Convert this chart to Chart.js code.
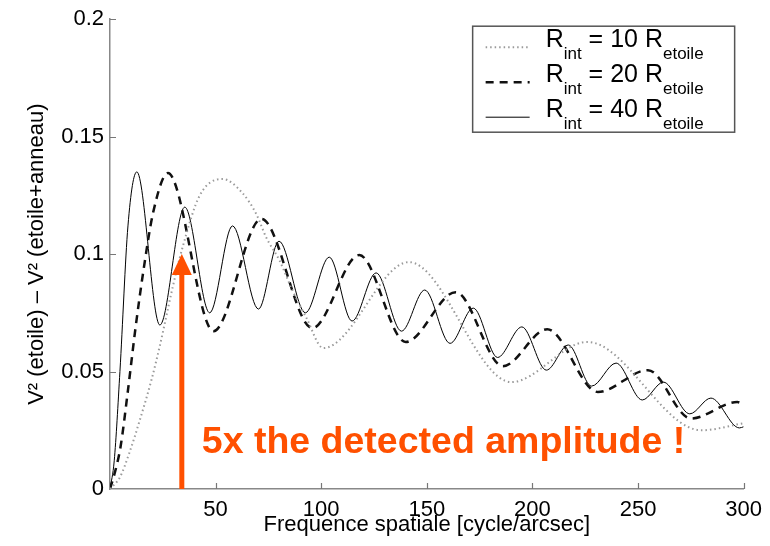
<!DOCTYPE html>
<html>
<head>
<meta charset="utf-8">
<script src="https://cdn.jsdelivr.net/npm/chart.js@4.4.0/dist/chart.umd.min.js"></script>
<style>
  body { margin: 0; background: #fff; }
  #wrap { width: 770px; height: 546px; }
</style>
</head>
<body>
<div id="wrap"><canvas id="myChart" width="770" height="546"></canvas></div>
<script>

// R_int = 10 R_etoile (dotted)
var r10Freq = [0, 4.7, 9.4, 14, 19.8, 23.6, 29.7, 34.4, 42.5, 53.3, 62.7, 69.3, 74, 80.2, 86.3, 92.9, 101, 141.5, 190, 226, 280, 300];
var r10Vis  = [0, 0.005, 0.016, 0.029, 0.047, 0.061, 0.086, 0.103, 0.125, 0.132, 0.126, 0.117, 0.107, 0.0974, 0.0847, 0.073, 0.060, 0.0966, 0.0455, 0.0626, 0.025, 0.028];

// R_int = 20 R_etoile (dashed)
var r20Freq = [0, 2, 5, 8.5, 12, 16, 20.5, 27.4, 49, 71.7, 95.8, 118, 140, 163.7, 186, 207, 231, 254.7, 275, 297, 300];
var r20Vis  = [0, 0.006, 0.018, 0.042, 0.068, 0.094, 0.118, 0.1345, 0.0672, 0.115, 0.0685, 0.0996, 0.0626, 0.0838, 0.0523, 0.068, 0.0413, 0.0506, 0.030, 0.037, 0.036];

// R_int = 40 R_etoile (solid)
var r40Freq = [0, 2, 4.7, 8.5, 12.7, 23.6, 35.4, 47.2, 58, 70.3, 80, 92.5, 103.8, 114.6, 126, 138, 149, 161, 172, 183.5, 195, 206.6, 217, 228, 239.6, 252, 262, 274.5, 284.5, 298, 300];
var r40Vis  = [0, 0.012, 0.05, 0.112, 0.135, 0.0698, 0.12, 0.075, 0.112, 0.0766, 0.1055, 0.075, 0.0987, 0.0715, 0.092, 0.0672, 0.0847, 0.062, 0.077, 0.056, 0.069, 0.0506, 0.0613, 0.0438, 0.0536, 0.0379, 0.0455, 0.032, 0.0387, 0.026, 0.0265];

var xTicks = [50, 100, 150, 200, 250, 300];
var yTicks = [0.05, 0.1, 0.15, 0.2];
var legendLabels = ['10', '20', '40'];

var arrowFreq = 34;
var arrowTop = 0.1;
var noteText = '5x the detected amplitude !';

function toPoints(xs, ys) {
    return xs.map(function (x, i) { return { x: x, y: ys[i] }; });
}

var FONT = "'Liberation Sans', Arial, Helvetica, sans-serif";
Chart.defaults.font.family = FONT;
Chart.defaults.color = '#000';

// inward MATLAB style ticks
var tickPlugin = {
    id: 'inwardTicks',
    afterDraw: function (chart) {
        var ctx = chart.ctx, xs = chart.scales.x, ys = chart.scales.y, a = chart.chartArea;
        ctx.save();
        ctx.strokeStyle = '#777';
        ctx.lineWidth = 1.2;
        ctx.beginPath();
        xTicks.forEach(function (v) {
            var px = Math.round(xs.getPixelForValue(v)) + 0.5;
            ctx.moveTo(px, a.bottom);
            ctx.lineTo(px, a.bottom - 6);
        });
        yTicks.forEach(function (v) {
            var py = Math.round(ys.getPixelForValue(v)) + 0.5;
            ctx.moveTo(a.left, py);
            ctx.lineTo(a.left + 6, py);
        });
        ctx.stroke();
        ctx.restore();
    }
};

// orange arrow + note
var notePlugin = {
    id: 'note',
    afterDraw: function (chart) {
        var ctx = chart.ctx, xs = chart.scales.x, ys = chart.scales.y;
        var px = xs.getPixelForValue(arrowFreq);
        var pBottom = ys.getPixelForValue(0);
        var pTop = ys.getPixelForValue(arrowTop);
        ctx.save();
        ctx.fillStyle = '#ff5000';
        ctx.fillRect(px - 2.5, pTop + 20, 5, pBottom - pTop - 20);
        ctx.beginPath();
        ctx.moveTo(px, pTop);
        ctx.lineTo(px - 10, pTop + 21);
        ctx.lineTo(px + 10, pTop + 21);
        ctx.closePath();
        ctx.fill();
        ctx.font = 'bold 37.5px ' + FONT;
        ctx.textBaseline = 'alphabetic';
        ctx.fillText(noteText, px + 20, pBottom - 36);
        ctx.restore();
    }
};

// legend with subscripts
var legendPlugin = {
    id: 'subLegend',
    afterDraw: function (chart) {
        var ctx = chart.ctx, a = chart.chartArea;
        var bx = a.right - 271, by = a.top + 7, bw = 262, bh = 106;
        ctx.save();
        ctx.fillStyle = '#fff';
        ctx.fillRect(bx, by, bw, bh);
        ctx.strokeStyle = '#555';
        ctx.lineWidth = 1.5;
        ctx.strokeRect(bx, by, bw, bh);
        var styles = chart.data.datasets;
        for (var i = 0; i < 3; i++) {
            var yb = by + 21 + 35 * i;
            var ds = styles[i];
            ctx.beginPath();
            ctx.strokeStyle = ds.borderColor;
            ctx.lineWidth = ds.borderWidth;
            ctx.setLineDash(ds.borderDash || []);
            ctx.moveTo(bx + 13, yb);
            ctx.lineTo(bx + 57, yb);
            ctx.stroke();
            ctx.setLineDash([]);
            ctx.fillStyle = '#000';
            var x = bx + 73;
            ctx.font = '25px ' + FONT;
            ctx.fillText('R', x, yb);
            x += ctx.measureText('R').width;
            ctx.font = '17px ' + FONT;
            ctx.fillText('int', x, yb + 12);
            x += ctx.measureText('int').width;
            ctx.font = '25px ' + FONT;
            var mid = ' = ' + legendLabels[i] + ' R';
            ctx.fillText(mid, x, yb);
            x += ctx.measureText(mid).width;
            ctx.font = '17px ' + FONT;
            ctx.fillText('etoile', x, yb + 12);
        }
        ctx.restore();
    }
};

var chartId = document.getElementById('myChart').getContext('2d');

var myChart = new Chart(chartId, {
    type: 'line',
    data: {
        datasets: [{
            label: 'R_int = 10 R_etoile',
            data: toPoints(r10Freq, r10Vis),
            borderColor: '#9a9a9a',
            borderWidth: 2,
            borderDash: [1.5, 3],
            pointRadius: 0,
            cubicInterpolationMode: 'monotone'
        }, {
            label: 'R_int = 20 R_etoile',
            data: toPoints(r20Freq, r20Vis),
            borderColor: '#111',
            borderWidth: 2.5,
            borderDash: [8, 6],
            pointRadius: 0,
            cubicInterpolationMode: 'monotone'
        }, {
            label: 'R_int = 40 R_etoile',
            data: toPoints(r40Freq, r40Vis),
            borderColor: '#000',
            borderWidth: 1,
            pointRadius: 0,
            cubicInterpolationMode: 'monotone'
        }]
    },
    options: {
        responsive: false,
        animation: false,
        layout: { padding: { top: 17, right: 24, left: 0, bottom: 0 } },
        plugins: {
            legend: { display: false },
            tooltip: { enabled: false }
        },
        scales: {
            x: {
                type: 'linear',
                min: 0,
                max: 300,
                afterFit: function (s) { s.height = 57; },
                afterBuildTicks: function (s) { s.ticks = xTicks.map(function (v) { return { value: v }; }); },
                ticks: {
                    padding: 8,
                    maxRotation: 0,
                    font: { size: 22 },
                    color: '#000'
                },
                grid: { display: false, drawTicks: false },
                border: { display: true, color: '#888', width: 1.5 },
                title: {
                    display: true,
                    text: 'Frequence spatiale [cycle/arcsec]',
                    font: { size: 22 },
                    color: '#000',
                    padding: { top: 0, bottom: 8 }
                }
            },
            y: {
                min: 0,
                max: 0.2,
                afterFit: function (s) { s.width = 110; },
                ticks: {
                    stepSize: 0.05,
                    padding: 6,
                    font: { size: 22 },
                    color: '#000',
                    callback: function (v) { return String(+v.toFixed(2)); }
                },
                grid: { display: false, drawTicks: false },
                border: { display: true, color: '#888', width: 1.5 },
                title: {
                    display: true,
                    text: 'V² (etoile) – V² (etoile+anneau)',
                    font: { size: 22 },
                    color: '#000',
                    padding: { top: 24, bottom: 0 }
                }
            }
        }
    },
    plugins: [tickPlugin, notePlugin, legendPlugin]
});
</script>
</body>
</html>
